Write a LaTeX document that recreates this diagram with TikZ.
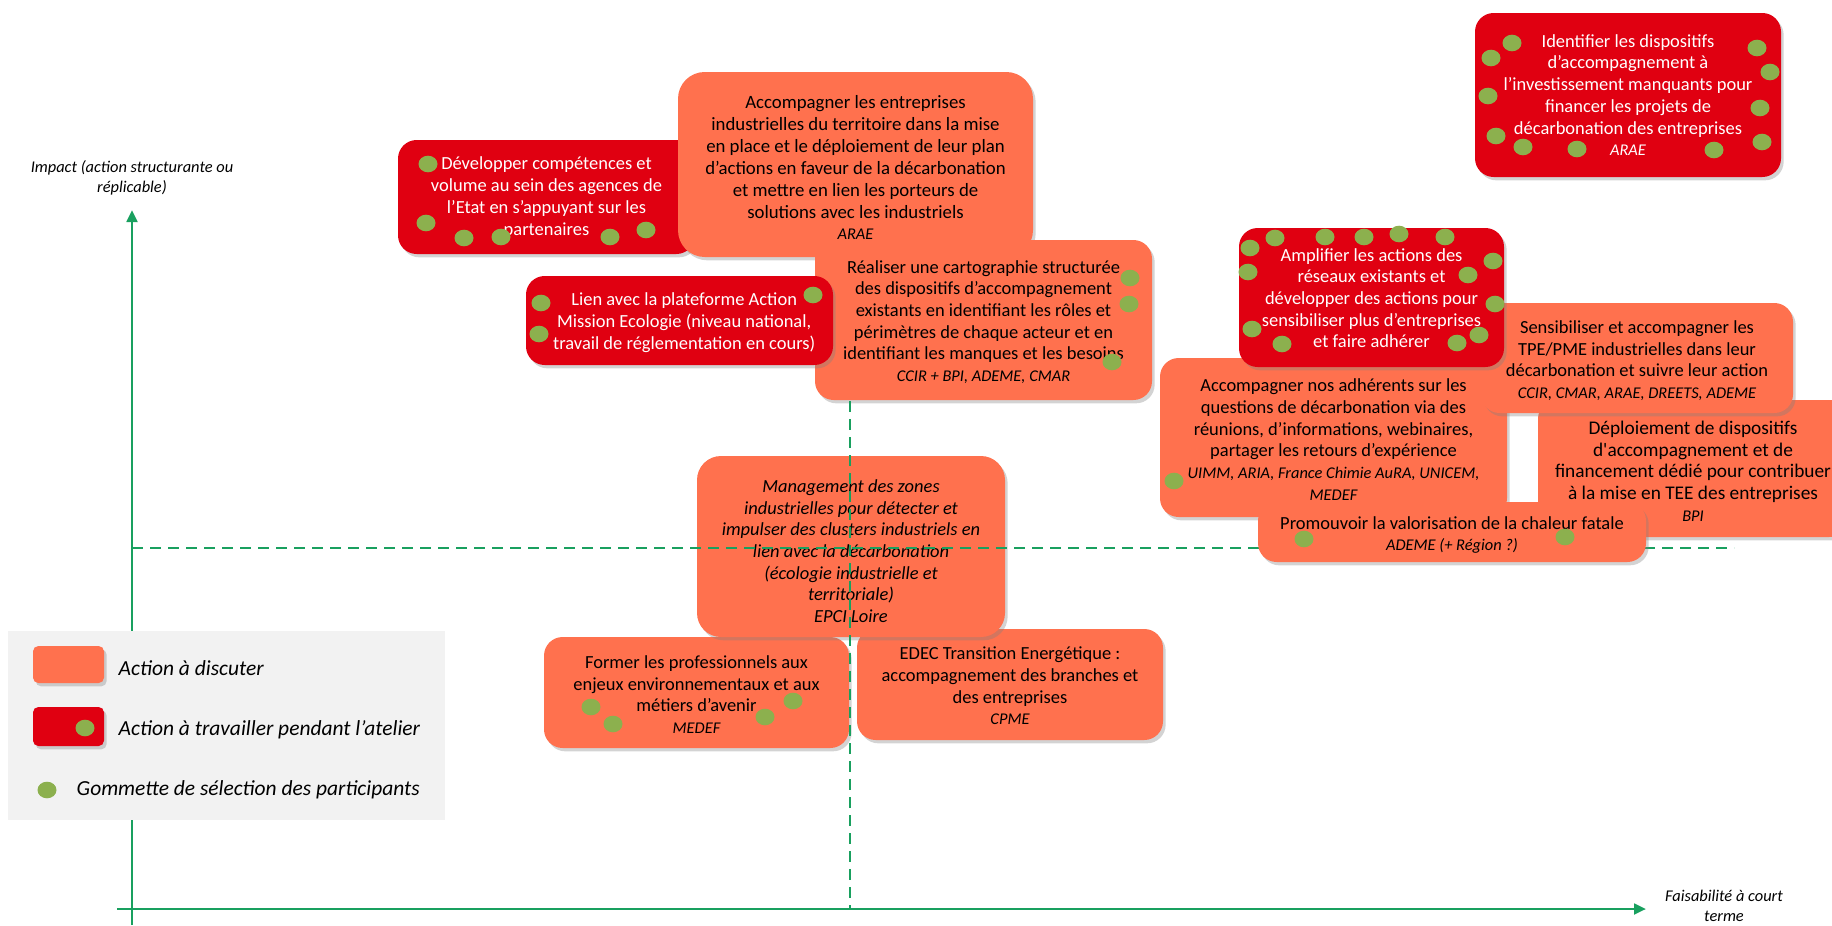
\documentclass[tikz,border=0pt]{standalone}
\usepackage{fontspec}
\setmainfont{Carlito}
\usetikzlibrary{fit,shadows,arrows.meta}
\definecolor{orangebox}{RGB}{255,113,78}
\definecolor{redbox}{RGB}{224,0,17}
\definecolor{dotgreen}{RGB}{140,176,78}
\definecolor{axisgreen}{RGB}{25,160,95}
\definecolor{legendgray}{RGB}{242,242,242}
\newcommand\bxfont{\fontsize{13.85}{16.3}\selectfont}
\newcommand\axfont{\fontsize{12.3}{15}\selectfont\itshape}
\newcommand\lgfont{\fontsize{16.1}{19}\selectfont\itshape}
\newcommand\ag[1]{{\fontsize{12.3}{15}\selectfont\itshape #1}}
\newcommand\gdot[2]{\fill[dotgreen] (#1,#2) ellipse [x radius=9.5, y radius=8.3];}
\tikzset{
  box/.style={rounded corners=14pt, inner sep=0pt,
    drop shadow={shadow xshift=2pt, shadow yshift=-2.5pt, opacity=0.35}},
  obox/.style={box, fill=orangebox},
  rbox/.style={box, fill=redbox},
  otxt/.style={align=center, font=\bxfont, inner sep=0pt, text=black},
  rtxt/.style={align=center, font=\bxfont, inner sep=0pt, text=white},
  axis/.style={draw=axisgreen, line width=2pt, -{Triangle[length=9pt,width=8pt]}},
  guide/.style={draw=axisgreen, line width=1.5pt, dash pattern=on 8pt off 5.5pt},
}
\begin{document}
\begin{tikzpicture}[x=0.75pt,y=-0.75pt]
\useasboundingbox (0,0) rectangle (1832,925);

% axes
\coordinate (yb) at (132,925);
\coordinate (yt) at (132,210);
\coordinate (xl) at (117,909);
\coordinate (xr) at (1646,909);
\draw[axis] (yb) -- (yt);
\draw[axis] (xl) -- (xr);
\node[font=\axfont, align=center] (ylab) at (132,178) {Impact (action structurante ou\\réplicable)};
\node[font=\axfont, align=center] (xlab) at (1724,906) {Faisabilité à court\\terme};

% top-left boxes
\node[rbox, fit={(398,140) (695,254)}] (A) {};
\node[rtxt] (At) at ([yshift=-0.5pt]A.center) {Développer compétences et\\volume au sein des agences de\\l’Etat en s’appuyant sur les\\partenaires};
\gdot{428}{164}\gdot{426}{223}\gdot{464}{238}\gdot{501}{237}\gdot{610}{237}\gdot{646}{230}

\node[obox, rounded corners=20pt, fit={(678,72) (1033,257)}] (B) {};
\node[otxt, font=\fontsize{14.1}{16.4}\selectfont] (Bt) at ([yshift=-2.5pt]B.center) {Accompagner les entreprises\\industrielles du territoire dans la mise\\en place et le déploiement de leur plan\\d’actions en faveur de la décarbonation\\et mettre en lien les porteurs de\\solutions avec les industriels\\\ag{ARAE}};

\node[obox, fit={(815,240) (1152,400)}] (D) {};
\node[otxt] (Dt) at ([yshift=-1.5pt]D.center) {Réaliser une cartographie structurée\\des dispositifs d’accompagnement\\existants en identifiant les rôles et\\périmètres de chaque acteur et en\\identifiant les manques et les besoins\\\ag{CCIR + BPI, ADEME, CMAR}};
\gdot{1130}{278}\gdot{1129}{304}\gdot{1112}{362}

\node[rbox, fit={(526,276) (833,365)}] (C) {};
\node[rtxt] (Ct) at ([xshift=3.5pt,yshift=-1.5pt]C.center) {Lien avec la plateforme Action\\Mission Ecologie (niveau national,\\travail de réglementation en cours)};
\gdot{541}{303}\gdot{539}{334}\gdot{813}{295}

% lower middle boxes
\node[obox, fit={(857,629) (1163,740)}] (M) {};
\node[otxt] (Mt) at ([yshift=-1pt]M.center) {EDEC Transition Energétique :\\accompagnement des branches et\\des entreprises\\\ag{CPME}};
\node[obox, fit={(544,637) (849,748)}] (L) {};
\node[otxt] (Lt) at ([yshift=-1.5pt]L.center) {Former les professionnels aux\\enjeux environnementaux et aux\\métiers d’avenir\\\ag{MEDEF}};
\gdot{591}{707}\gdot{613}{724}\gdot{765}{717}\gdot{793}{701}
\node[obox, rounded corners=18pt, fit={(697,456) (1005,637)}] (K) {};
\node[otxt, font=\bxfont\itshape] (Kt) at ([yshift=-3.5pt]K.center) {Management des zones\\industrielles pour détecter et\\impulser des clusters industriels en\\lien avec la décarbonation\\(écologie industrielle et\\territoriale)\\EPCI Loire};

% guide lines
\coordinate (vt) at (850,401);
\coordinate (vb) at (850,909);
\coordinate (hl) at (132,548);
\coordinate (hr) at (1734,548);
\draw[guide] (vt) -- (vb);
\draw[guide] (hl) -- (hr);

% right boxes
\node[obox, fit={(1160,358) (1507,517)}] (H) {};
\node[otxt] (Ht) at ([yshift=-1.5pt]H.center) {Accompagner nos adhérents sur les\\questions de décarbonation via des\\réunions, d’informations, webinaires,\\partager les retours d’expérience\\\ag{UIMM, ARIA, France Chimie AuRA, UNICEM,}\\\ag{MEDEF}};
\gdot{1174}{481}
\node[obox, fit={(1538,400) (1848,537)}] (I) {};
\node[otxt, font=\fontsize{14.5}{16.4}\selectfont] (It) at ([yshift=-2pt]I.center) {Déploiement de dispositifs\\d\textquotesingle accompagnement et de\\financement dédié pour contribuer\\à la mise en TEE des entreprises\\\ag{BPI}};
\node[obox, fit={(1481,303) (1793,413)}] (G) {};
\node[otxt] (Gt) at ([yshift=-2pt]G.center) {Sensibiliser et accompagner les\\TPE/PME industrielles dans leur\\décarbonation et suivre leur action\\\ag{CCIR, CMAR, ARAE, DREETS, ADEME}};
\node[rbox, fit={(1239,228) (1504,367)}] (F) {};
\node[rtxt] (Ft) at ([yshift=-0.5pt]F.center) {Amplifier les actions des\\réseaux existants et\\développer des actions pour\\sensibiliser plus d’entreprises\\et faire adhérer};
\gdot{1275}{238}\gdot{1325}{237}\gdot{1364}{237}\gdot{1399}{234}\gdot{1445}{237}
\gdot{1250}{248}\gdot{1248}{272}\gdot{1493}{261}\gdot{1468}{275}\gdot{1495}{304}
\gdot{1252}{329}\gdot{1282}{344}\gdot{1457}{343}\gdot{1479}{335}
\node[obox, fit={(1258,502) (1646,562)}] (J) {};
\node[otxt, font=\fontsize{13.85}{15.5}\selectfont] (Jt) at ([yshift=-2pt]J.center) {Promouvoir la valorisation de la chaleur fatale\\\ag{ADEME (+ Région ?)}};
\gdot{1304}{539}\gdot{1565}{537}

\node[rbox, fit={(1475,13) (1781,177)}] (E) {};
\node[rtxt] (Et) at (E.center) {Identifier les dispositifs\\d’accompagnement à\\l’investissement manquants pour\\financer les projets de\\décarbonation des entreprises\\\ag{ARAE}};
\gdot{1512}{43}\gdot{1491}{58}\gdot{1757}{48}\gdot{1770}{72}\gdot{1488}{96}\gdot{1760}{108}
\gdot{1496}{136}\gdot{1523}{147}\gdot{1577}{149}\gdot{1714}{150}\gdot{1762}{142}

% legend
\node[fill=legendgray, inner sep=0pt, fit={(8,631) (445,820)}] (legend) {};
\node[obox, rounded corners=4pt, fit={(33,646) (104,683)}] (legO) {};
\node[font=\lgfont, anchor=west] (legOt) at (114,668) {Action à discuter};
\node[rbox, rounded corners=4pt, fit={(33,707) (104,746)}] (legR) {};
\gdot{85}{728}
\node[font=\lgfont, anchor=west] (legRt) at (114,730) {Action à travailler pendant l’atelier};
\gdot{47}{790}
\node[font=\lgfont, anchor=west] (legDt) at (72,790) {Gommette de sélection des participants};
\end{tikzpicture}
\end{document}
